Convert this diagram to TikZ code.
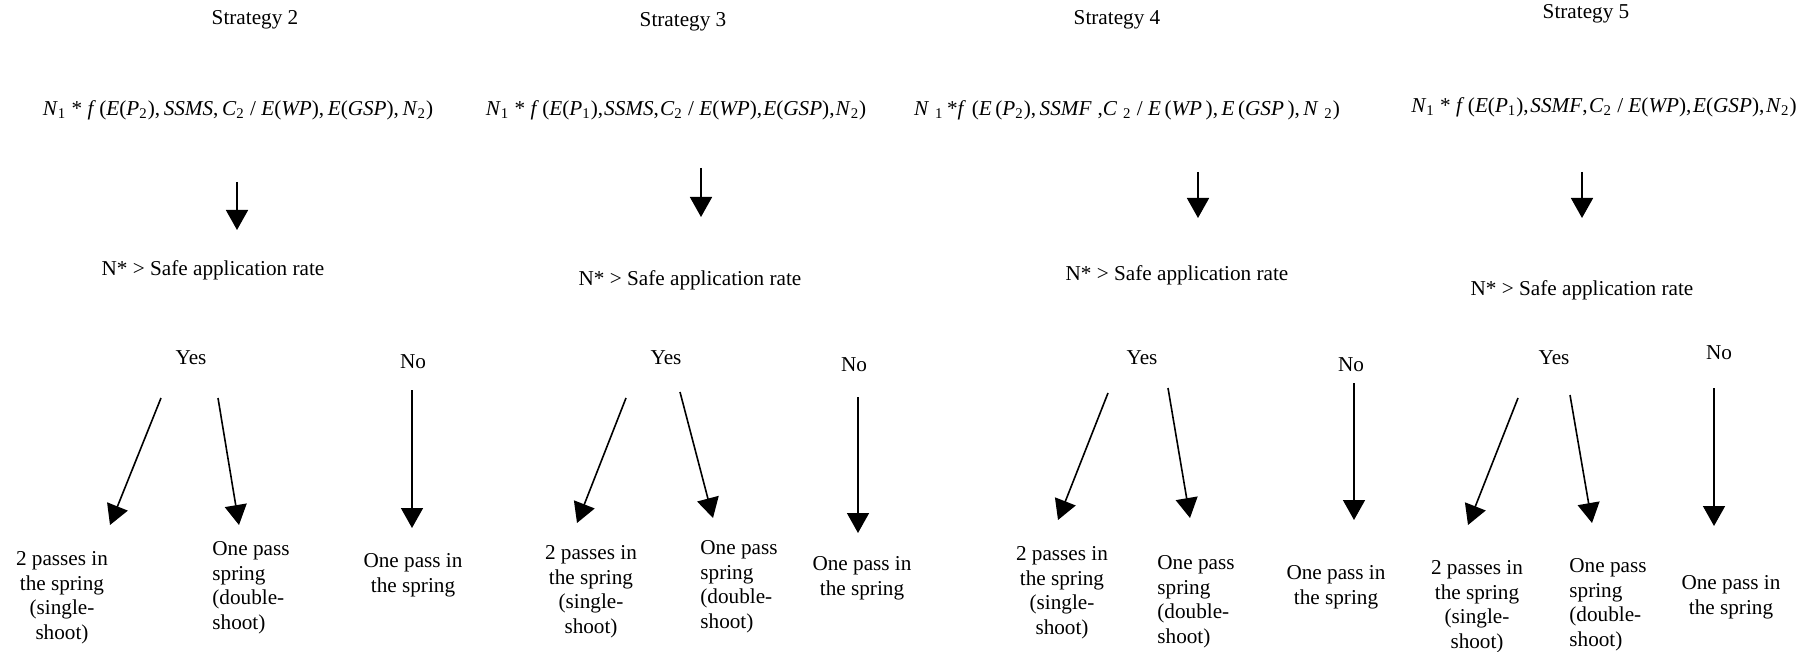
\documentclass[tikz,border=0pt]{standalone}
\usepackage{fontspec}
\setmainfont{Liberation Serif}
\usetikzlibrary{arrows.meta}

\newcommand{\iv}[1]{\textit{#1}}
\newcommand{\lo}[1]{\textsubscript{#1}}

\begin{document}
\begin{tikzpicture}[x=0.5pt, y=-0.5pt,
    every node/.style={inner sep=0pt, font=\fontsize{10.6}{12.3}\selectfont},
    block_title/.style ={rectangle, draw=none, text centered},
    block_formula/.style ={rectangle, draw=none},
    block_center/.style ={rectangle, draw=none, text centered},
    block_outcome/.style ={rectangle, draw=none, align=center, anchor=north},
    block_left/.style ={rectangle, draw=none, align=left, anchor=north west},
      line/.style ={draw, thick, -{Triangle[length=10pt, width=11pt]}}]
    \useasboundingbox (0,0) rectangle (1820,652);
    % strategy 2 - header
    \node [block_title] (title2) at (255,20) {Strategy 2};
    \node [block_formula] (rule2) at (238,110)
      {\iv{N}\lo{1} * \iv{f}\,(\iv{E}(\iv{P}\lo{2}),\,\iv{SSMS},\,\iv{C}\lo{2} / \iv{E}(\iv{WP}),\,\iv{E}(\iv{GSP}),\,\iv{N}\lo{2})};
    \node [block_center] (test2) at (213,270) {N* > Safe application rate};
    % strategy 2 - answers
    \node [block_center] (yes2) at (191,358) {Yes};
    \node [block_center] (no2) at (413,362) {No};
    % strategy 2 - outcomes
    \node [block_outcome] (single2) at (62,551) {2 passes in\\the spring\\(single-\\shoot)};
    \node [block_left] (double2) at (212,541) {One pass\\spring\\(double-\\shoot)};
    \node [block_outcome] (spring2) at (413,553) {One pass in\\the spring};
    % strategy 3 - header
    \node [block_title] (title3) at (683,22) {Strategy 3};
    \node [block_formula] (rule3) at (676,110)
      {\iv{N}\lo{1} * \iv{f}\,(\iv{E}(\iv{P}\lo{1}),\hspace{0.05em}\iv{SSMS},\hspace{0.05em}\iv{C}\lo{2} / \iv{E}(\iv{WP}),\hspace{0.05em}\iv{E}(\iv{GSP}),\hspace{0.05em}\iv{N}\lo{2})};
    \node [block_center] (test3) at (690,280) {N* > Safe application rate};
    % strategy 3 - answers
    \node [block_center] (yes3) at (666,358) {Yes};
    \node [block_center] (no3) at (854,365) {No};
    % strategy 3 - outcomes
    \node [block_outcome] (single3) at (591,545) {2 passes in\\the spring\\(single-\\shoot)};
    \node [block_left] (double3) at (700,540) {One pass\\spring\\(double-\\shoot)};
    \node [block_outcome] (spring3) at (862,556) {One pass in\\the spring};
    % strategy 4 - header
    \node [block_title] (title4) at (1117,20) {Strategy 4};
    \node [block_formula] (rule4) at (1127,110)
      {\iv{N}\;\lo{1}\,*\iv{f}\;(\iv{E}\,(\iv{P}\lo{2}),\,\iv{SSMF}\;,\iv{C}\;\lo{2} / \iv{E}\,(\iv{WP}\,),\,\iv{E}\,(\iv{GSP}\,),\,\iv{N}\;\lo{2})};
    \node [block_center] (test4) at (1177,275) {N* > Safe application rate};
    % strategy 4 - answers
    \node [block_center] (yes4) at (1142,358) {Yes};
    \node [block_center] (no4) at (1351,365) {No};
    % strategy 4 - outcomes
    \node [block_outcome] (single4) at (1062,546) {2 passes in\\the spring\\(single-\\shoot)};
    \node [block_left] (double4) at (1157,555) {One pass\\spring\\(double-\\shoot)};
    \node [block_outcome] (spring4) at (1336,565) {One pass in\\the spring};
    % strategy 5 - header
    \node [block_title] (title5) at (1586,14) {Strategy 5};
    \node [block_formula] (rule5) at (1604,107)
      {\iv{N}\lo{1} * \iv{f}\,(\iv{E}(\iv{P}\lo{1}),\hspace{0.08em}\iv{SSMF},\hspace{0.08em}\iv{C}\lo{2} / \iv{E}(\iv{WP}),\hspace{0.08em}\iv{E}(\iv{GSP}),\hspace{0.08em}\iv{N}\lo{2})};
    \node [block_center] (test5) at (1582,290) {N* > Safe application rate};
    % strategy 5 - answers
    \node [block_center] (yes5) at (1554,358) {Yes};
    \node [block_center] (no5) at (1719,353) {No};
    % strategy 5 - outcomes
    \node [block_outcome] (single5) at (1477,560) {2 passes in\\the spring\\(single-\\shoot)};
    \node [block_left] (double5) at (1569,558) {One pass\\spring\\(double-\\shoot)};
    \node [block_outcome] (spring5) at (1731,575) {One pass in\\the spring};
    % connecting nodes with paths
    \begin{scope}[every path/.style=line]
      % paths for strategy 2
      \path ([shift={(-1,72)}]rule2.center) -- ([shift={(24,-40)}]test2.center);
      \path ([shift={(-30,40)}]yes2.center) -- ([shift={(48,-26)}]single2.north);
      \path ([shift={(27,40)}]yes2.center) -- ([shift={(27,-16)}]double2.north west);
      \path ([shift={(-1,28)}]no2.center) -- ([shift={(-1,-25)}]spring2.north);
      % paths for strategy 3
      \path ([shift={(25,58)}]rule3.center) -- ([shift={(11,-63)}]test3.center);
      \path ([shift={(-40,40)}]yes3.center) -- ([shift={(-14,-22)}]single3.north);
      \path ([shift={(14,34)}]yes3.center) -- ([shift={(13,-22)}]double3.north west);
      \path ([shift={(4,32)}]no3.center) -- ([shift={(-4,-23)}]spring3.north);
      % paths for strategy 4
      \path ([shift={(71,62)}]rule4.center) -- ([shift={(21,-57)}]test4.center);
      \path ([shift={(-34,35)}]yes4.center) -- ([shift={(-4,-26)}]single4.north);
      \path ([shift={(26,30)}]yes4.center) -- ([shift={(33,-37)}]double4.north west);
      \path ([shift={(3,18)}]no4.center) -- ([shift={(18,-45)}]spring4.north);
      % paths for strategy 5
      \path ([shift={(-22,65)}]rule5.center) -- ([shift={(0,-72)}]test5.center);
      \path ([shift={(-36,40)}]yes5.center) -- ([shift={(-9,-35)}]single5.north);
      \path ([shift={(16,37)}]yes5.center) -- ([shift={(23,-35)}]double5.north west);
      \path ([shift={(-5,35)}]no5.center) -- ([shift={(-17,-49)}]spring5.north);
    \end{scope}
\end{tikzpicture}
\end{document}
